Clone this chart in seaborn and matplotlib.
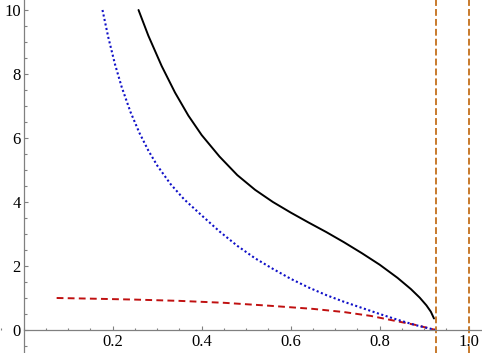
import numpy as np
import pandas as pd
import matplotlib
matplotlib.use("Agg")
import matplotlib.pyplot as plt
import seaborn as sns
from matplotlib.ticker import MultipleLocator, FixedLocator

# values
black_x = [0.258, 0.280, 0.310, 0.340, 0.370, 0.400, 0.440, 0.480, 0.520, 0.560,
           0.600, 0.640, 0.680, 0.720, 0.760, 0.800, 0.840, 0.870, 0.890, 0.905,
           0.915, 0.922]
black_y = [10.0, 9.20, 8.25, 7.42, 6.70, 6.09, 5.42, 4.84, 4.38, 4.00,
           3.67, 3.36, 3.06, 2.74, 2.40, 2.04, 1.63, 1.28, 1.01, 0.77,
           0.57, 0.36]

blue_x = [0.177, 0.190, 0.205, 0.220, 0.240, 0.260, 0.280, 0.300, 0.330, 0.360,
          0.400, 0.440, 0.480, 0.520, 0.560, 0.600, 0.640, 0.680, 0.720, 0.760,
          0.800, 0.840, 0.880, 0.926]
blue_y = [10.0, 9.15, 8.31, 7.60, 6.81, 6.16, 5.61, 5.14, 4.56, 4.09,
          3.58, 3.08, 2.63, 2.24, 1.91, 1.60, 1.33, 1.09, 0.88, 0.69,
          0.50, 0.32, 0.155, 0.0]

red_x = [0.074, 0.150, 0.250, 0.350, 0.450, 0.550, 0.650, 0.720, 0.780, 0.840,
         0.880, 0.926]
red_y = [1.00, 0.98, 0.95, 0.91, 0.85, 0.76, 0.66, 0.56, 0.44, 0.27,
         0.16, 0.0]

asymptotes = [0.926, 1.0]

x_ticks = [0.2, 0.4, 0.6, 0.8, 1.0]
x_tick_labels = ["0.2", "0.4", "0.6", "0.8", "1.0"]
y_ticks = [0, 2, 4, 6, 8, 10]
y_tick_labels = ["0", "2", "4", "6", "8", "10"]

sns.set_theme(style="white")
serif = ["Liberation Serif", "DejaVu Serif"]
plt.rcParams["font.family"] = serif

fig = plt.figure(figsize=(4.82, 3.53), dpi=100)
ax = fig.add_axes([0, 0, 1, 1])

df_black = pd.DataFrame({"x": black_x, "y": black_y})
df_blue = pd.DataFrame({"x": blue_x, "y": blue_y})
df_red = pd.DataFrame({"x": red_x, "y": red_y})

sns.lineplot(data=df_red, x="x", y="y", ax=ax, sort=False, estimator=None,
             color="#C01010", lw=1.4, linestyle=(0, (3.5, 2.2)))
sns.lineplot(data=df_blue, x="x", y="y", ax=ax, sort=False, estimator=None,
             color="#1010C8", lw=1.5, linestyle=(0, (1, 1.2)))
sns.lineplot(data=df_black, x="x", y="y", ax=ax, sort=False, estimator=None,
             color="black", lw=1.4)
for a in asymptotes:
    ax.axvline(a, color="#C87A2C", lw=1.4, linestyle=(0, (3.5, 1.6)))

ax.set_xlim(-0.0533, 1.0299)
ax.set_ylim(-0.719, 10.3125)
ax.set_xlabel("")
ax.set_ylabel("")

ax.patch.set_alpha(0)
for s in ["top", "right"]:
    ax.spines[s].set_visible(False)
ax.spines["left"].set_position(("data", 0))
ax.spines["bottom"].set_position(("data", 0))
ax.spines["bottom"].set_bounds(0, 1.0299)
for s in ["left", "bottom"]:
    ax.spines[s].set_color("#808080")
    ax.spines[s].set_linewidth(0.9)

ax.xaxis.set_major_locator(FixedLocator(x_ticks))
ax.set_xticklabels(x_tick_labels)
ax.xaxis.set_minor_locator(MultipleLocator(0.05))
ax.yaxis.set_major_locator(FixedLocator(y_ticks))
ax.set_yticklabels(y_tick_labels)
ax.yaxis.set_minor_locator(MultipleLocator(0.5))

ax.tick_params(which="both", direction="in", color="#808080", width=0.8,
               labelcolor="black", bottom=True, left=True)
ax.tick_params(which="major", length=3.2, pad=3)
ax.tick_params(which="minor", length=1.8)
ax.tick_params(axis="y", pad=2)

# apply the serif face last, after every tick_params call
for lab in ax.get_xticklabels() + ax.get_yticklabels():
    lab.set_fontfamily(serif)
    lab.set_fontsize(12)

fig.savefig("out.png", dpi=100)
